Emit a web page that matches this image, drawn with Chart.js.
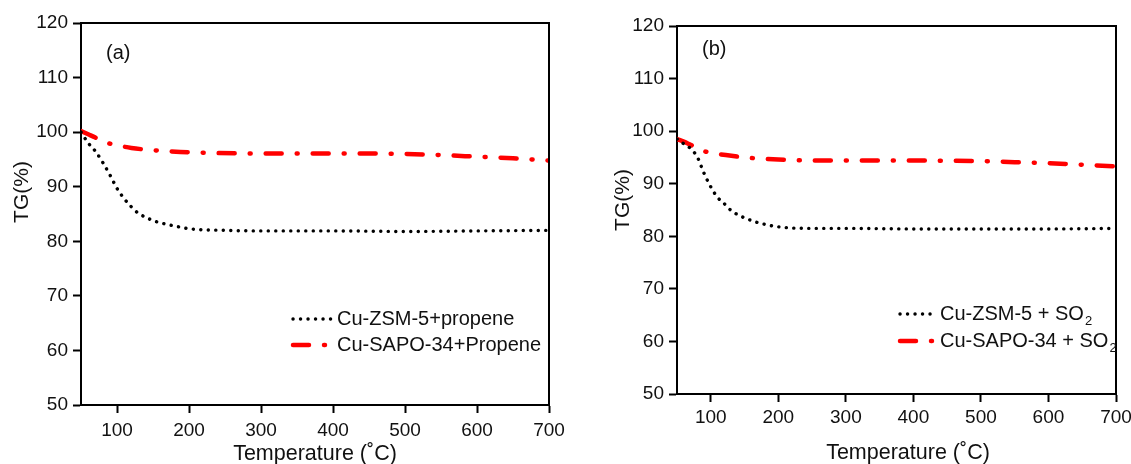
<!DOCTYPE html>
<html>
<head>
<meta charset="utf-8">
<script src="https://cdn.jsdelivr.net/npm/chart.js@4/dist/chart.umd.min.js"></script>
<style>
  html, body { margin: 0; padding: 0; background: #fff; }
  #wrap { position: relative; width: 1131px; height: 464px; }
  canvas { position: absolute; top: 0; }
  #chartA { left: 0; }
  #chartB { left: 565px; }
</style>
</head>
<body>
<div id="wrap">
  <canvas id="chartA" width="565" height="464"></canvas>
  <canvas id="chartB" width="566" height="464"></canvas>
</div>
<script>
// TG curves, panel (a): propene
const tempZsmA = [50, 60, 70, 80, 90, 100, 110, 120, 130, 140, 150, 160, 180, 200, 250, 300, 400, 500, 600, 700];
const zsmPropene = [100.0, 98.0, 96.5, 94.5, 92.2, 89.7, 87.8, 86.3, 85.1, 84.4, 83.8, 83.4, 82.8, 82.3, 82.0, 81.9, 81.9, 81.8, 81.9, 82.0];
const tempSapoA = [50, 60, 70, 80, 90, 100, 120, 140, 160, 200, 300, 400, 500, 550, 600, 650, 700];
const sapoPropene = [100.2, 99.6, 99.0, 98.3, 97.9, 97.6, 97.1, 96.8, 96.6, 96.3, 96.1, 96.1, 96.0, 95.8, 95.5, 95.2, 94.8];

// TG curves, panel (b): SO2
const tempZsmB = [50, 60, 70, 80, 90, 100, 110, 120, 130, 140, 150, 170, 200, 250, 300, 400, 500, 600, 700];
const zsmSO2 = [98.5, 97.6, 96.7, 95.1, 92.0, 89.4, 87.4, 86.2, 84.9, 84.1, 83.5, 82.6, 81.8, 81.5, 81.5, 81.4, 81.4, 81.4, 81.5];
const tempSapoB = [50, 60, 70, 80, 90, 100, 125, 150, 200, 300, 400, 500, 550, 600, 650, 700];
const sapoSO2 = [98.5, 98.0, 97.4, 96.8, 96.2, 95.9, 95.4, 95.0, 94.6, 94.4, 94.4, 94.3, 94.1, 93.9, 93.6, 93.3];

const xTicks = [100, 200, 300, 400, 500, 600, 700];
const yTicks = [50, 60, 70, 80, 90, 100, 110, 120];

const FONT = '"Liberation Sans", Arial, Helvetica, sans-serif';
const INK = '#111';

function points(xs, ys) {
    return xs.map((x, i) => ({ x: x, y: ys[i] }));
}

const dotted = { borderColor: '#000', borderWidth: 3.4, borderDash: [0.1, 7.4] };
const dashDot = { borderColor: '#ff0000', borderWidth: 4.5, borderDash: [16, 15, 1, 15] };

// frame, axis titles, panel tag and the in-plot legend
const panelDecor = {
    id: 'panelDecor',
    afterDraw(chart, args, opts) {
        const ctx = chart.ctx;
        const a = chart.chartArea;
        ctx.save();
        ctx.strokeStyle = '#000';
        ctx.lineWidth = 2;
        ctx.beginPath();
        ctx.moveTo(a.left, a.top);
        ctx.lineTo(a.right, a.top);
        ctx.lineTo(a.right, a.bottom);
        ctx.stroke();

        ctx.fillStyle = INK;

        // vertical axis title
        ctx.save();
        ctx.translate(opts.yTitleX, opts.yTitleY);
        ctx.rotate(-Math.PI / 2);
        ctx.font = '21px ' + FONT;
        ctx.textAlign = 'center';
        ctx.textBaseline = 'middle';
        ctx.fillText('TG(%)', 0, 0);
        ctx.restore();

        // horizontal axis title
        ctx.font = '21.5px ' + FONT;
        ctx.textAlign = 'center';
        ctx.textBaseline = 'alphabetic';
        ctx.fillText('Temperature (˚C)', opts.xTitleX, opts.xTitleY);

        ctx.font = '20px ' + FONT;
        ctx.textAlign = 'left';
        ctx.fillText(opts.tag, opts.tagX, opts.tagY);

        opts.rows.forEach((row, i) => {
            const ds = chart.data.datasets[i];
            const y = opts.rowY[i];
            ctx.save();
            ctx.strokeStyle = ds.borderColor;
            ctx.lineWidth = ds.borderWidth;
            ctx.lineCap = 'round';
            ctx.setLineDash(ds.borderDash);
            ctx.beginPath();
            ctx.moveTo(opts.sampleX0, y - 6);
            ctx.lineTo(opts.sampleX1, y - 6);
            ctx.stroke();
            ctx.restore();

            ctx.font = '20px ' + FONT;
            ctx.fillText(row.text, opts.textX, y);
            if (row.sub) {
                const w = ctx.measureText(row.text).width;
                ctx.font = '13px ' + FONT;
                ctx.fillText(row.sub, opts.textX + w + 1, y + 5);
            }
        });
        ctx.restore();
    }
};

function makeChart(id, series, geo, decor) {
    return new Chart(document.getElementById(id), {
        type: 'line',
        data: {
            datasets: series.map(s => Object.assign({
                label: s.label,
                data: s.data,
                pointRadius: 0,
                borderCapStyle: 'round',
                cubicInterpolationMode: 'monotone',
                fill: false
            }, s.style))
        },
        options: {
            responsive: false,
            animation: false,
            layout: { autoPadding: false, padding: { left: geo.padLeft, top: geo.top, right: geo.padRight, bottom: 0 } },
            plugins: {
                legend: { display: false },
                tooltip: { enabled: false },
                panelDecor: decor
            },
            scales: {
                x: {
                    type: 'linear',
                    min: 50,
                    max: 700,
                    afterBuildTicks: s => { s.ticks = xTicks.map(v => ({ value: v })); },
                    afterFit: s => {
                        s.height = geo.xHeight;
                        s.paddingLeft = 0;
                        s.paddingRight = 0;
                    },
                    grid: { drawOnChartArea: false, drawTicks: true, tickLength: 8, tickWidth: 2, tickColor: '#000' },
                    border: { display: true, color: '#000', width: 2 },
                    ticks: { color: INK, padding: geo.xTickPad, font: { family: FONT, size: 19 } }
                },
                y: {
                    min: 50,
                    max: 120,
                    afterBuildTicks: s => { s.ticks = yTicks.map(v => ({ value: v })); },
                    afterFit: s => {
                        s.width = geo.yWidth;
                        s.paddingTop = 0;
                        s.paddingBottom = 0;
                    },
                    grid: { drawOnChartArea: false, drawTicks: true, tickLength: 8, tickWidth: 2, tickColor: '#000' },
                    border: { display: true, color: '#000', width: 2 },
                    ticks: { color: INK, padding: 5, font: { family: FONT, size: 19 } }
                }
            }
        },
        plugins: [panelDecor]
    });
}

document.addEventListener('DOMContentLoaded', function() {
    makeChart('chartA', [
        { label: 'Cu-ZSM-5+propene', data: points(tempZsmA, zsmPropene), style: dotted },
        { label: 'Cu-SAPO-34+Propene', data: points(tempSapoA, sapoPropene), style: dashDot }
    ], { padLeft: 0, yWidth: 81, top: 23, padRight: 16, xHeight: 59, xTickPad: 6 }, {
        yTitleX: 22, yTitleY: 192,
        xTitleX: 315, xTitleY: 460,
        tag: '(a)', tagX: 106, tagY: 59,
        sampleX0: 293, sampleX1: 333, textX: 337, rowY: [325, 351],
        rows: [{ text: 'Cu-ZSM-5+propene' }, { text: 'Cu-SAPO-34+Propene' }]
    });

    makeChart('chartB', [
        { label: 'Cu-ZSM-5 + SO2', data: points(tempZsmB, zsmSO2), style: dotted },
        { label: 'Cu-SAPO-34 + SO2', data: points(tempSapoB, sapoSO2), style: dashDot }
    ], { padLeft: 36, yWidth: 76, top: 26, padRight: 15, xHeight: 70, xTickPad: 4 }, {
        yTitleX: 58, yTitleY: 200,
        xTitleX: 343, xTitleY: 459,
        tag: '(b)', tagX: 137, tagY: 55,
        sampleX0: 335, sampleX1: 371, textX: 375, rowY: [320, 347],
        rows: [{ text: 'Cu-ZSM-5 + SO', sub: '2' }, { text: 'Cu-SAPO-34 + SO', sub: '2' }]
    });
});
</script>
</body>
</html>
